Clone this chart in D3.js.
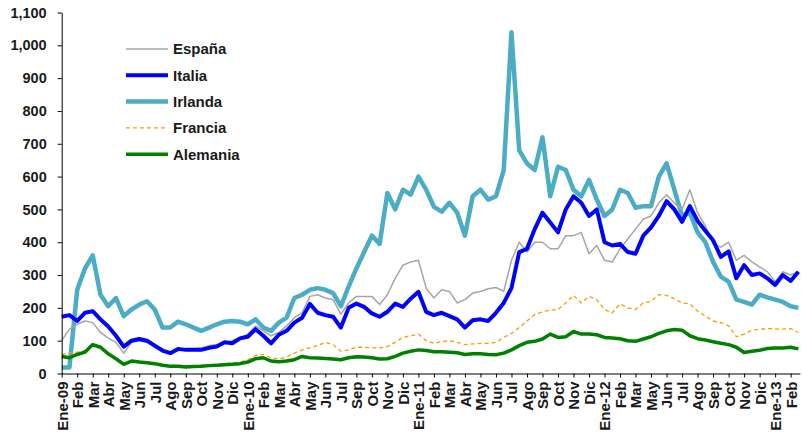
<!DOCTYPE html>
<html>
<head>
<meta charset="utf-8">
<script src="https://cdn.jsdelivr.net/npm/d3@7"></script>
<style>
  body { margin: 0; background: #fff; }
  svg { display: block; font-family: "Liberation Sans", Arial, sans-serif; }
</style>
</head>
<body>
<div id="chart"></div>
<script>
// category labels on the x axis (one per tick, Excel-style skipping)
var monthLabels = ["Ene-09","Feb","Mar","Abr","May","Jun","Jul","Ago","Sep","Oct","Nov","Dic",
	"Ene-10","Feb","Mar","Abr","May","Jun","Jul","Sep","Oct","Nov","Dic",
	"Ene-11","Feb","Mar","Abr","May","Jun","Jul","Ago","Sep","Oct","Nov","Dic",
	"Ene-12","Feb","Mar","May","Jun","Jul","Ago","Sep","Oct","Nov","Dic",
	"Ene-13","Feb"];

var yTicks = [0,100,200,300,400,500,600,700,800,900,1000,1100];

// values read every half tick (p.b.)
var espana = [100,135,150,160,155,125,108,95,62,95,100,95,80,70,66,70,
	72,75,78,85,88,95,100,110,120,145,130,115,125,145,170,185,
	235,240,230,225,180,215,235,235,235,210,240,290,330,340,345,260,
	230,255,250,215,225,245,250,258,262,250,345,400,370,400,400,380,
	380,420,420,430,365,390,345,340,380,410,440,470,480,520,545,520,
	500,560,490,450,395,385,400,345,360,340,325,310,280,310,300,310];

var italia = [173,178,160,185,190,165,143,115,82,100,105,100,85,70,62,75,
	72,72,72,78,82,95,92,107,112,135,115,92,118,130,155,170,
	212,185,178,173,140,200,213,203,183,173,188,213,203,228,249,188,
	178,185,175,165,140,162,165,160,185,215,260,370,380,440,490,460,
	430,500,540,520,480,500,400,390,395,370,365,420,445,480,525,500,
	462,510,465,435,406,355,372,290,330,300,305,290,270,300,282,310];

var irlanda = [18,18,255,320,360,240,205,230,175,195,210,220,195,140,140,158,
	150,140,130,140,150,158,160,158,150,165,140,130,155,170,230,240,
	255,260,255,245,205,265,320,370,420,395,550,500,560,545,600,560,
	508,493,520,490,420,540,560,530,540,620,1040,680,640,620,720,540,
	630,620,560,540,590,530,480,500,560,550,505,510,510,600,640,560,
	480,490,430,400,340,295,280,225,218,210,240,232,225,218,205,200];

var francia = [58,62,65,70,90,82,62,47,30,40,37,35,32,27,25,25,
	24,24,25,27,28,30,32,35,42,55,58,48,45,50,62,72,
	78,85,95,88,68,72,80,80,78,78,82,95,110,115,120,100,
	92,97,100,95,88,90,92,92,95,110,122,140,160,180,188,193,
	195,215,238,215,235,225,195,185,212,200,195,215,220,240,238,228,
	215,212,190,175,160,155,145,112,120,132,135,137,136,135,137,125];

var alemania = [52,48,58,65,88,80,60,45,28,38,35,33,30,25,22,22,
	20,21,22,24,25,27,28,30,35,45,48,38,36,38,42,52,
	48,47,46,44,42,48,51,50,48,44,45,52,62,68,72,70,
	66,66,65,63,58,60,60,58,57,62,72,85,95,98,105,120,
	110,112,128,120,120,118,110,108,106,100,98,105,112,122,130,134,
	132,115,106,102,97,92,88,80,64,68,71,76,78,78,80,75];

var series = [
	{name: "España", values: espana, color: "#a6a6a6", width: 1.5, dash: null, z: 1},
	{name: "Italia", values: italia, color: "#0000ff", width: 4, dash: null, z: 2},
	{name: "Irlanda", values: irlanda, color: "#4bacc6", width: 4.5, dash: null, z: 0},
	{name: "Francia", values: francia, color: "#ff9900", width: 1.3, dash: "4,3", z: 3},
	{name: "Alemania", values: alemania, color: "#008000", width: 3.5, dash: null, z: 4}
];

var width = 802, height = 436;
var plotLeft = 61.7, plotTop = 12.5, plotBottom = 373.5, plotRight = 798.4;

var svg = d3.select("#chart").append("svg")
	.attr("width", width)
	.attr("height", height);

var x = d3.scaleLinear().domain([0, 47.5]).range([plotLeft, plotRight]);
var y = d3.scaleLinear().domain([0, 1100]).range([plotBottom, plotTop]);

var line = d3.line()
	.x((d, i) => x(i / 2))
	.y(d => y(d));

// drawing order: Irlanda underneath, Italia over it
var linesG = svg.append("g");
series.slice().sort((a, b) => a.z - b.z).forEach(s => {
	linesG.append("path")
		.datum(s.values)
		.attr("d", line)
		.style("fill", "none")
		.style("stroke", s.color)
		.style("stroke-width", s.width)
		.style("stroke-dasharray", s.dash)
		.style("stroke-linejoin", "round")
});

// y axis
var yAxis = svg.append("g")
	.attr("transform", "translate(" + plotLeft + ",0)")
	.call(d3.axisLeft(y).tickValues(yTicks).tickFormat(d3.format(",")).tickSize(4).tickPadding(11).tickSizeOuter(0));
yAxis.selectAll("text")
	.style("font-size", "14.5px")
	.style("font-weight", "bold")
	.style("fill", "#1a1a1a");

// x axis
var xAxis = svg.append("g")
	.attr("transform", "translate(0," + plotBottom + ")")
	.call(d3.axisBottom(x).tickValues(d3.range(monthLabels.length)).tickFormat(i => monthLabels[i]).tickSize(4).tickSizeOuter(0));
xAxis.select(".domain").attr("d", "M" + plotLeft + ",0.5H" + (plotRight + 2));
xAxis.selectAll("text")
	.attr("transform", "rotate(-90)")
	.attr("x", -8)
	.attr("y", 0)
	.attr("dy", "0.36em")
	.style("text-anchor", "end")
	.style("font-size", "15px")
	.style("font-weight", "bold")
	.style("fill", "#1a1a1a");
svg.selectAll(".domain, .tick line").style("stroke", "#000");

// legend
var legend = svg.append("g");
series.forEach((s, i) => {
	var ly = 49 + i * 26.3;
	legend.append("line")
		.attr("x1", 126).attr("x2", 168)
		.attr("y1", ly).attr("y2", ly)
		.style("stroke", s.color)
		.style("stroke-width", s.width)
		.style("stroke-dasharray", s.dash);
	legend.append("text")
		.attr("x", 173).attr("y", ly)
		.attr("dy", "0.36em")
		.style("font-size", "15px")
		.style("font-weight", "bold")
		.style("fill", "#1a1a1a")
		.text(s.name);
});
</script>
</body>
</html>
